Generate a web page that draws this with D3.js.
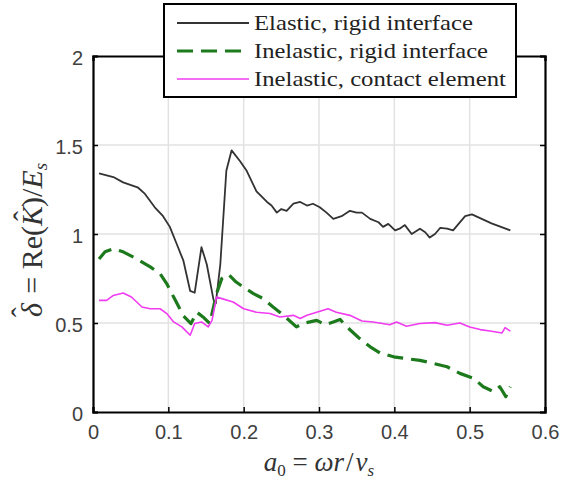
<!DOCTYPE html>
<html>
<head>
<meta charset="utf-8">
<script src="https://cdn.jsdelivr.net/npm/d3@7"></script>
<style>
  body { margin: 0; background: #fff; }
  svg { display: block; }
  .sans { font-family: "Liberation Sans", Arial, sans-serif; }
  .serif { font-family: "Liberation Serif", "DejaVu Serif", serif; }
</style>
</head>
<body>
<div id="chart"></div>
<script>
// series data
const elasticX = [0.008,0.027,0.040,0.060,0.069,0.082,0.093,0.102,0.111,0.120,0.129,0.135,0.144,0.151,0.160,0.163,0.169,0.177,0.184,0.195,0.204,0.217,0.231,0.237,0.244,0.250,0.257,0.266,0.275,0.284,0.292,0.301,0.310,0.319,0.330,0.341,0.350,0.357,0.368,0.379,0.385,0.392,0.401,0.407,0.414,0.423,0.434,0.441,0.447,0.454,0.461,0.470,0.478,0.494,0.503,0.529,0.554];
const elasticY = [1.34,1.32,1.29,1.26,1.225,1.15,1.10,1.04,0.945,0.85,0.68,0.67,0.926,0.83,0.63,0.61,0.83,1.355,1.47,1.41,1.355,1.24,1.18,1.16,1.12,1.14,1.13,1.17,1.18,1.16,1.17,1.15,1.12,1.085,1.10,1.13,1.12,1.12,1.085,1.066,1.04,1.057,1.02,1.03,1.05,1.00,1.03,1.01,0.98,1.00,1.035,1.03,1.02,1.10,1.11,1.06,1.02];

const rigidX = [0.008,0.016,0.027,0.040,0.058,0.076,0.089,0.098,0.109,0.120,0.130,0.138,0.146,0.155,0.164,0.171,0.180,0.190,0.200,0.213,0.226,0.239,0.253,0.270,0.280,0.288,0.297,0.308,0.319,0.328,0.337,0.352,0.368,0.381,0.399,0.416,0.434,0.452,0.470,0.487,0.505,0.518,0.532,0.540,0.548,0.554];
const rigidY = [0.86,0.90,0.917,0.90,0.86,0.815,0.777,0.72,0.63,0.54,0.497,0.56,0.534,0.497,0.665,0.75,0.773,0.73,0.70,0.665,0.637,0.59,0.543,0.478,0.50,0.506,0.515,0.49,0.506,0.52,0.478,0.42,0.366,0.332,0.31,0.30,0.29,0.273,0.254,0.217,0.19,0.142,0.114,0.142,0.086,0.142];

const contactX = [0.008,0.018,0.027,0.040,0.051,0.065,0.076,0.089,0.098,0.107,0.118,0.129,0.135,0.144,0.153,0.158,0.164,0.171,0.186,0.200,0.217,0.235,0.248,0.266,0.275,0.284,0.297,0.312,0.323,0.341,0.357,0.372,0.394,0.403,0.416,0.434,0.454,0.470,0.487,0.500,0.514,0.527,0.543,0.547,0.554];
const contactY = [0.627,0.627,0.655,0.668,0.646,0.59,0.58,0.58,0.553,0.506,0.478,0.431,0.497,0.506,0.478,0.515,0.646,0.637,0.618,0.58,0.56,0.553,0.534,0.543,0.525,0.543,0.56,0.58,0.56,0.543,0.511,0.506,0.49,0.506,0.482,0.497,0.502,0.487,0.50,0.478,0.463,0.455,0.444,0.474,0.454];

const xTicks = [0, 0.1, 0.2, 0.3, 0.4, 0.5, 0.6];
const yTicks = [0, 0.5, 1, 1.5, 2];
const legendLabels = ["Elastic, rigid interface", "Inelastic, rigid interface", "Inelastic, contact element"];

const W = 561, H = 482;
const plotL = 93, plotR = 545, plotT = 56, plotB = 412;

const svg = d3.select("#chart").append("svg").attr("width", W).attr("height", H);

const x = d3.scaleLinear().domain([0, 0.6]).range([plotL, plotR]);
const y = d3.scaleLinear().domain([0, 2]).range([plotB, plotT]);

// grid
svg.append("g").selectAll("line").data(xTicks.slice(1, -1)).join("line")
  .attr("x1", d => x(d)).attr("x2", d => x(d)).attr("y1", plotT).attr("y2", plotB)
  .attr("stroke", "#e2e2e2").attr("stroke-width", 1.5);
svg.append("g").selectAll("line").data(yTicks.slice(1, -1)).join("line")
  .attr("y1", d => y(d)).attr("y2", d => y(d)).attr("x1", plotL).attr("x2", plotR)
  .attr("stroke", "#e2e2e2").attr("stroke-width", 1.5);

const series = [
  { xs: elasticX, ys: elasticY, color: "#333333", width: 1.8, dash: null },
  { xs: rigidX, ys: rigidY, color: "#1c7a1c", width: 3.2, dash: "16,8" },
  { xs: contactX, ys: contactY, color: "#f03cf0", width: 1.6, dash: null }
];

const line = d3.line().x(d => x(d[0])).y(d => y(d[1]));

series.forEach(s => {
  svg.append("path")
    .datum(d3.zip(s.xs, s.ys))
    .attr("d", line)
    .attr("fill", "none")
    .attr("stroke", s.color)
    .attr("stroke-width", s.width)
    .attr("stroke-dasharray", s.dash)
    .attr("stroke-linejoin", "round");
});

// axes (box with inward ticks)
const xAxis = d3.axisBottom(x).tickValues(xTicks).tickSize(-5).tickFormat(d3.format("~g"));
const yAxis = d3.axisLeft(y).tickValues(yTicks).tickSize(-5).tickFormat(d3.format("~g"));

const gx = svg.append("g").attr("transform", `translate(0,${plotB})`).call(xAxis);
const gy = svg.append("g").attr("transform", `translate(${plotL},0)`).call(yAxis);
svg.append("g").attr("transform", `translate(0,${plotT})`)
  .call(d3.axisTop(x).tickValues(xTicks).tickSize(-5).tickFormat(""));
svg.append("g").attr("transform", `translate(${plotR},0)`)
  .call(d3.axisRight(y).tickValues(yTicks).tickSize(-5).tickFormat(""));

svg.selectAll(".domain").attr("stroke", "#000").attr("stroke-width", 2.2);
svg.selectAll(".tick line").attr("stroke", "#000").attr("stroke-width", 1.5);

gx.selectAll(".tick text")
  .attr("y", 13).attr("dy", "0.71em").attr("class", "sans")
  .attr("font-size", 20).attr("fill", "#404040");
gy.selectAll(".tick text")
  .attr("x", -10).attr("dy", "0.4em").attr("class", "sans")
  .attr("font-size", 20).attr("fill", "#404040");
svg.selectAll("g").attr("font-family", null);

// axis labels
const xl = svg.append("text").attr("class", "serif")
  .attr("x", (plotL + plotR) / 2).attr("y", 471)
  .attr("text-anchor", "middle").attr("font-size", 27).attr("fill", "#333");
xl.append("tspan").attr("font-style", "italic").text("a");
xl.append("tspan").attr("font-size", 17).attr("dy", 5).text("0");
xl.append("tspan").attr("dy", -5).text(" = ");
xl.append("tspan").attr("font-style", "italic").text("ωr");
xl.append("tspan").attr("dx", 2).text("/");
xl.append("tspan").attr("dx", 2).attr("font-style", "italic").text("v");
xl.append("tspan").attr("font-style", "italic").attr("font-size", 17).attr("dy", 5).text("s");

const yl = svg.append("text").attr("class", "serif")
  .attr("transform", `translate(42,${(plotT + plotB) / 2 + 6}) rotate(-90)`)
  .attr("text-anchor", "middle").attr("font-size", 30).attr("fill", "#333");
yl.append("tspan").attr("font-style", "italic").text("δ");
yl.append("tspan").attr("dx", -14).attr("dy", -10).text("\u02C6");
yl.append("tspan").attr("dx", 6).attr("dy", 10).text(" = Re(");
yl.append("tspan").attr("font-style", "italic").text("K");
yl.append("tspan").attr("dx", -15).attr("dy", -8).text("\u02C6");
yl.append("tspan").attr("dx", 4).attr("dy", 8).text(")/");
yl.append("tspan").attr("font-style", "italic").text("E");
yl.append("tspan").attr("font-style", "italic").attr("font-size", 19).attr("dy", 5).text("s");

// legend
const lg = svg.append("g");
lg.append("rect")
  .attr("x", 164).attr("y", 4).attr("width", 352).attr("height", 93)
  .attr("fill", "#fff").attr("stroke", "#000").attr("stroke-width", 2);
const legendWidths = [219, 234, 252];
series.forEach((s, i) => {
  const ly = 23 + i * 28;
  lg.append("line")
    .attr("x1", 177).attr("x2", 249).attr("y1", ly).attr("y2", ly)
    .attr("stroke", s.color).attr("stroke-width", s.width).attr("stroke-dasharray", s.dash);
  lg.append("text").attr("class", "serif")
    .attr("x", 254).attr("y", ly + 7)
    .attr("font-size", 22).attr("fill", "#222")
    .attr("textLength", legendWidths[i]).attr("lengthAdjust", "spacingAndGlyphs")
    .text(legendLabels[i]);
});
</script>
</body>
</html>
